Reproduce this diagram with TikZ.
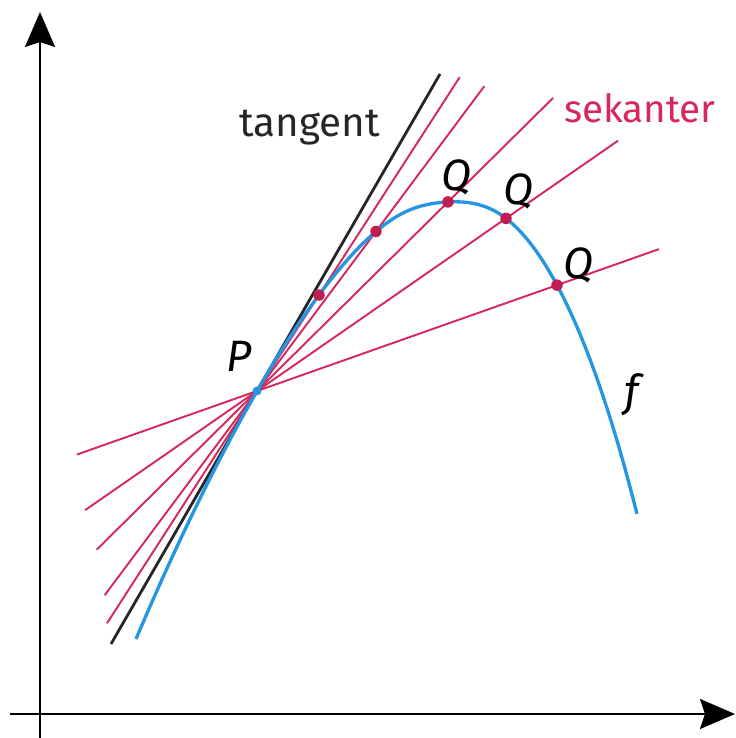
\documentclass[tikz,border=0pt]{standalone}
\usepackage{fontspec}
\setmainfont{Fira Sans}
\usetikzlibrary{arrows.meta, calc, positioning}

\definecolor{seccol}{RGB}{214,40,92}
\definecolor{fcol}{RGB}{38,150,226}
\definecolor{dotcol}{RGB}{190,30,80}

\begin{document}
\begin{tikzpicture}[
    x=0.02cm, y=0.02cm,
    declare function={fv(\x)=(\x)*(173.46-(\x)*(27.89+(\x)*(2.828+1.0754*(\x))))
        -6.5*exp(-((\x)-1.93)*((\x)-1.93)/0.2);},
    axis/.style={line width=1.3pt, -{Stealth[length=7mm, width=6mm, inset=1mm]}},
    secant/.style={seccol, line width=1.1pt},
    tangline/.style={black!85, line width=1.6pt},
    fcurve/.style={fcol, line width=1.9pt},
    qdot/.style={circle, fill=dotcol, inner sep=0pt, minimum size=2.3mm},
    lbl/.style={font=\fontsize{23}{27}\selectfont, anchor=base west},
    mlbl/.style={font=\fontsize{25}{29}\selectfont\itshape, anchor=base west},
]
    \useasboundingbox (-40,-24) rectangle (695,714);

    % axes
    \coordinate (ybot) at (0,-24);
    \coordinate (ytop) at (0,702);
    \coordinate (xleft) at (-30,0);
    \coordinate (xright) at (695,0);
    \draw[axis] (ybot) -- (ytop);
    \draw[axis] (xleft) -- (xright);

    % P and the points Q on the graph
    \coordinate (P) at (217,323);
    \foreach \s [count=\i] in {0.62,1.19,1.91,2.49,3.00}
        \coordinate (Q\i) at ({217+100*\s},{323+fv(\s)});

    % secants through P and Q
    \foreach \i/\a/\b in {1/-2.42/3.27, 2/-1.28/1.91, 3/-0.84/1.55,
            4/-0.69/1.45, 5/-0.60/1.34} {
        \coordinate (sa\i) at ($(P)!\a!(Q\i)$);
        \coordinate (sb\i) at ($(P)!\b!(Q\i)$);
        \draw[secant] (sa\i) -- (sb\i);
    }

    % tangent in P
    \coordinate (ta) at ($(P)+(-146,-253)$);
    \coordinate (tb) at ($(P)+(183,317)$);
    \draw[tangline] (ta) -- (tb);

    % graph of f
    \draw[fcurve] plot[domain=-1.21:3.80, samples=120, variable=\s]
        ({217+100*\s},{323+fv(\s)});

    \foreach \i in {1,...,5}
        \node[qdot] (q\i) at (Q\i) {};
    \node[circle, fill=fcol, inner sep=0pt, minimum size=1.8mm] (p) at (P) {};

    % labels
    \node[lbl, black!85] (tanlbl) at (193,577) {tangent};
    \node[lbl, seccol, font=\fontsize{22}{26}\selectfont] (seklbl) at (518,591) {sekanter};
    \node[mlbl] (plbl) at (180,342) {P};
    \node[mlbl] (q3lbl) at (395,523) {Q};
    \node[mlbl] (q4lbl) at (457,509) {Q};
    \node[mlbl] (q5lbl) at (517,435) {Q};
    \node[mlbl, anchor=center] (flbl) at (592,319) {f};
\end{tikzpicture}
\end{document}
